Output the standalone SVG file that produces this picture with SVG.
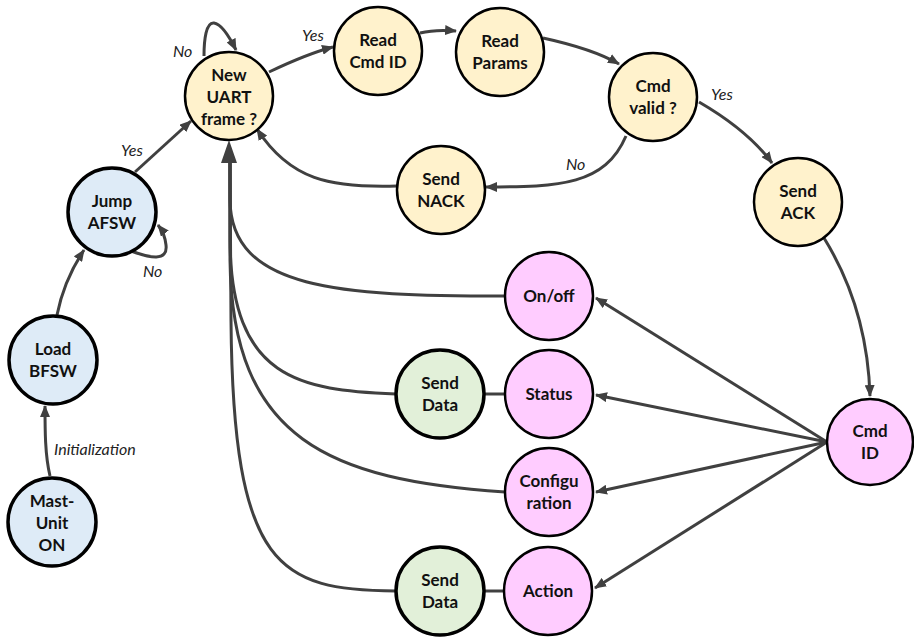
<svg xmlns="http://www.w3.org/2000/svg" width="914" height="637" viewBox="0 0 914 637">
<style>
.n circle{stroke:#000;stroke-width:2.5}
.y circle{fill:#fff2cc}
.b circle{fill:#deebf7;stroke-width:3.5}
.g circle{fill:#e2f0d9;stroke-width:3.5}
.p circle{fill:#ffccff}
.n text{font-family:Lato,"Liberation Sans",sans-serif;font-weight:700;font-size:17px;text-anchor:middle;fill:#111}
.e path,.e line{fill:none;stroke:#404040;stroke-width:3}
.e .head{fill:#404040;stroke:none}
.lbl{font-family:Lato,"Liberation Sans",sans-serif;font-style:italic;font-size:16px;fill:#222}
</style>
<defs>
<marker id="a" viewBox="0 0 12 10" refX="11" refY="5" markerWidth="12" markerHeight="10" markerUnits="userSpaceOnUse" orient="auto">
<path d="M0,0 L12,5 L0,10 z" fill="#404040"/>
</marker>
</defs>
<rect width="914" height="637" fill="#fff"/>
<g id="connectors" class="e">
<path d="M50,476 C45,455 45,430 45,406" marker-end="url(#a)"/>
<path d="M57,315 C62,290 72,268 84,250" marker-end="url(#a)"/>
<path d="M131,251 C150,258 168,262 166,245 C165,235 162,230 158,225" marker-end="url(#a)"/>
<path d="M135,172 L191,121" marker-end="url(#a)"/>
<path d="M204,56 C204,40 206,22 214,23 C222,24 230,38 236,50" marker-end="url(#a)"/>
<path d="M269,72 C290,62 310,53 333,47" marker-end="url(#a)"/>
<path d="M420,33 C432,30 444,30 456,31" marker-end="url(#a)"/>
<path d="M543,38 C575,45 600,53 619,64" marker-end="url(#a)"/>
<path d="M626,136 C605,185 560,187 486,187" marker-end="url(#a)"/>
<path d="M397,186 C330,188 290,180 257,129" marker-end="url(#a)"/>
<path d="M699,102 C730,120 755,140 772,163" marker-end="url(#a)"/>
<path d="M824,238 C850,280 868,330 870,396" marker-end="url(#a)"/>
<line x1="827" y1="442" x2="596" y2="298" marker-end="url(#a)"/>
<line x1="827" y1="442" x2="596" y2="395" marker-end="url(#a)"/>
<line x1="827" y1="442" x2="596" y2="492" marker-end="url(#a)"/>
<line x1="827" y1="442" x2="595" y2="588" marker-end="url(#a)"/>
<line x1="484" y1="394" x2="505" y2="394"/>
<line x1="484" y1="591" x2="504" y2="591"/>
<path d="M505,296 C340,296 231,290 230,200 L230,158"/>
<path d="M396,394 C300,390 231,380 230,240 L230,158"/>
<path d="M505,492 C330,480 232,440 230,260 L230,158"/>
<path d="M396,591 C280,590 233,570 231,320 L230,158"/>
<path class="head" d="M229,140 L237,163 L221,163 z"/>
<text class="lbl" x="54" y="455">Initialization</text>
<text class="lbl" x="143" y="277">No</text>
<text class="lbl" x="121" y="156">Yes</text>
<text class="lbl" x="173" y="57">No</text>
<text class="lbl" x="302" y="41">Yes</text>
<text class="lbl" x="566" y="170">No</text>
<text class="lbl" x="711" y="100">Yes</text>
</g>
<g id="mast" class="n b"><circle cx="52" cy="522" r="44"/><text x="52" y="507">Mast-</text><text x="52" y="529">Unit</text><text x="52" y="551">ON</text></g>
<g id="load" class="n b"><circle cx="53" cy="360" r="44"/><text x="53" y="355">Load</text><text x="53" y="377">BFSW</text></g>
<g id="jump" class="n b"><circle cx="112" cy="212" r="44"/><text x="112" y="207">Jump</text><text x="112" y="229">AFSW</text></g>
<g id="newuart" class="n y"><circle cx="229" cy="96" r="44"/><text x="229" y="81">New</text><text x="229" y="103">UART</text><text x="229" y="125">frame ?</text></g>
<g id="readcmd" class="n y"><circle cx="378" cy="51" r="44"/><text x="378" y="46">Read</text><text x="378" y="68">Cmd ID</text></g>
<g id="readparams" class="n y"><circle cx="500" cy="52" r="44"/><text x="500" y="47">Read</text><text x="500" y="69">Params</text></g>
<g id="cmdvalid" class="n y"><circle cx="653" cy="97" r="44"/><text x="653" y="92">Cmd</text><text x="653" y="114">valid ?</text></g>
<g id="sendnack" class="n y"><circle cx="441" cy="190" r="44"/><text x="441" y="185">Send</text><text x="441" y="207">NACK</text></g>
<g id="sendack" class="n y"><circle cx="798" cy="202" r="44"/><text x="798" y="197">Send</text><text x="798" y="219">ACK</text></g>
<g id="cmdid" class="n p"><circle cx="870" cy="442" r="43"/><text x="870" y="437">Cmd</text><text x="870" y="459">ID</text></g>
<g id="onoff" class="n p"><circle cx="549" cy="296" r="44"/><text x="549" y="302">On/off</text></g>
<g id="status" class="n p"><circle cx="549" cy="394" r="44"/><text x="549" y="400">Status</text></g>
<g id="config" class="n p"><circle cx="549" cy="492" r="44"/><text x="549" y="487">Configu</text><text x="549" y="509">ration</text></g>
<g id="action" class="n p"><circle cx="548" cy="591" r="44"/><text x="548" y="597">Action</text></g>
<g id="senddata1" class="n g"><circle cx="440" cy="394" r="44"/><text x="440" y="389">Send</text><text x="440" y="411">Data</text></g>
<g id="senddata2" class="n g"><circle cx="440" cy="591" r="44"/><text x="440" y="586">Send</text><text x="440" y="608">Data</text></g>
</svg>
